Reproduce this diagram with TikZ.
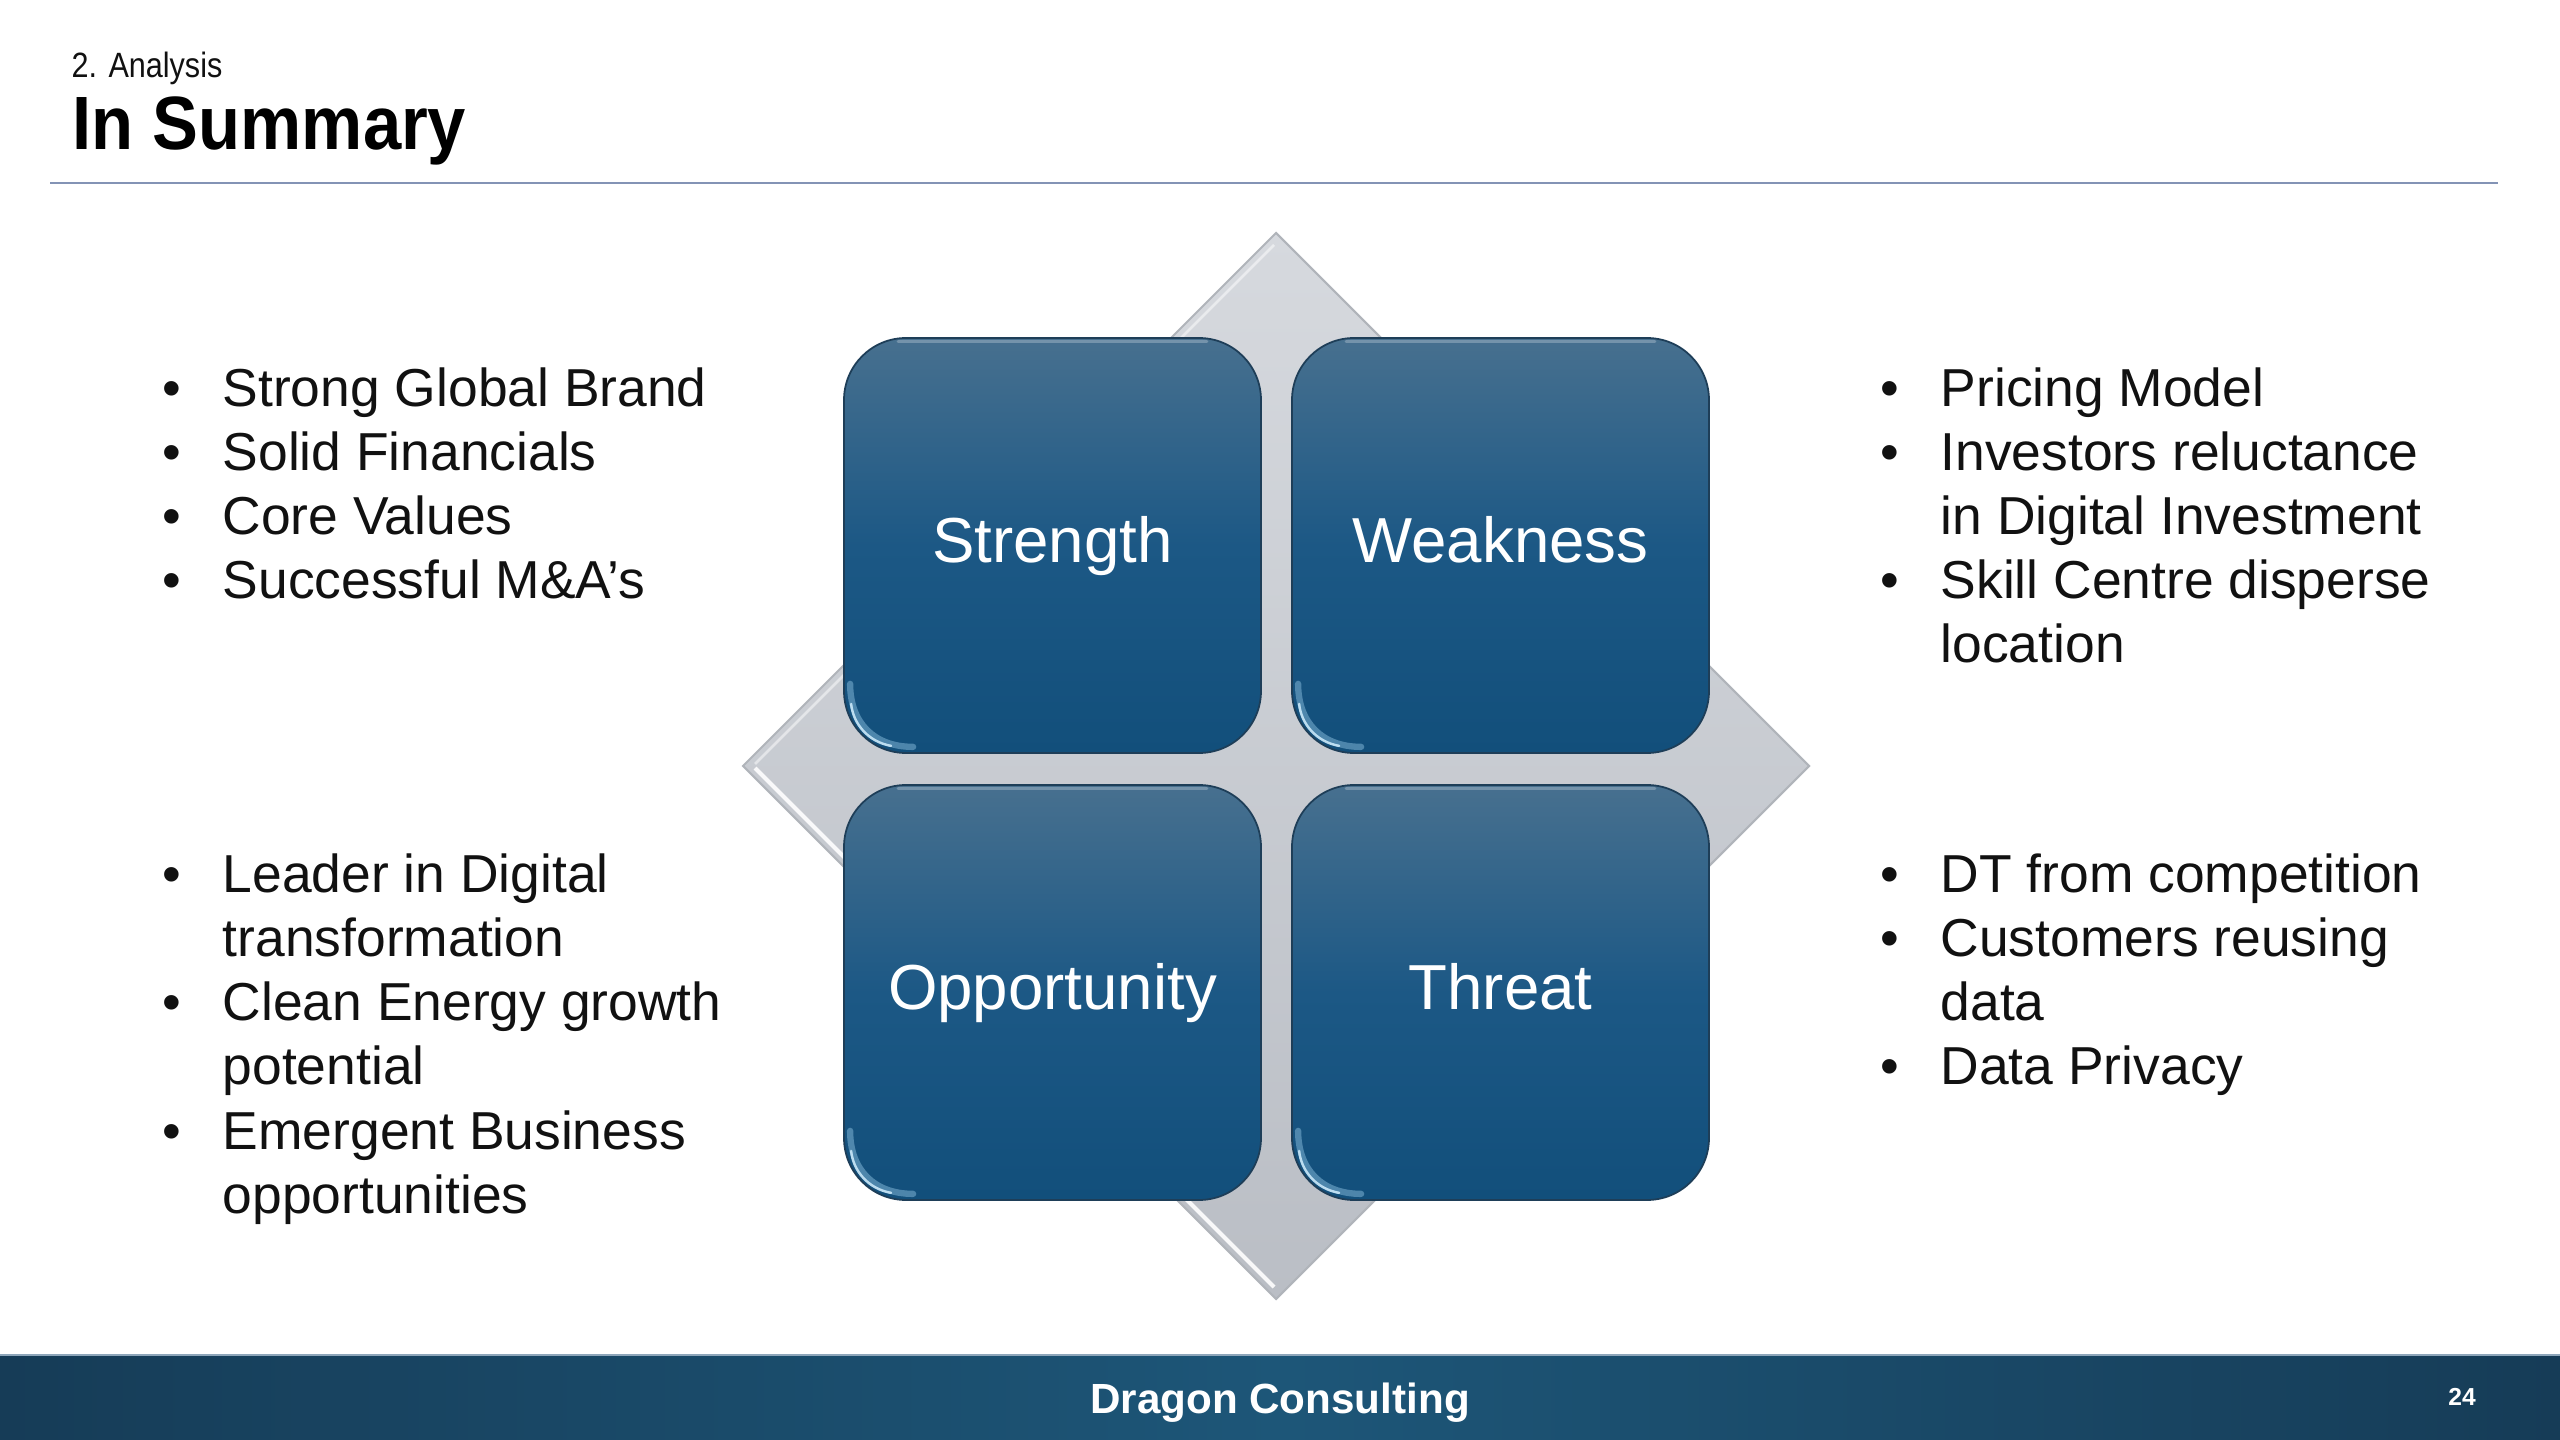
\documentclass[tikz,border=0pt]{standalone}
\usepackage{fontspec}
\setmainfont{Liberation Sans}
\usetikzlibrary{calc}
\definecolor{rulecol}{HTML}{8393B5}
\definecolor{diatop}{HTML}{D6D9DE}
\definecolor{diabot}{HTML}{BABEC5}
\definecolor{diaedge}{HTML}{B0B4BA}
\definecolor{boxtop}{HTML}{47708F}
\definecolor{boxmid}{HTML}{1C5885}
\definecolor{boxbot}{HTML}{124F7B}
\definecolor{boxedge}{HTML}{1E3E58}
\definecolor{hlcol}{HTML}{A6D8F5}
\definecolor{footdark}{HTML}{163C57}
\definecolor{footmid}{HTML}{1D5678}
\definecolor{footline}{HTML}{8EA6BA}
\definecolor{txt}{HTML}{111111}
\tikzset{
  swot/.style={rectangle, rounded corners=6.2mm, minimum width=41.7mm, minimum height=41.5mm,
    inner sep=0pt, draw=boxedge, line width=0.5pt, top color=boxtop, bottom color=boxbot,
    middle color=boxmid, text=white, font=\fontsize{18.1pt}{20pt}\selectfont,
    text height=4.5mm, text depth=1.1mm},
  hlsoft/.style={draw=hlcol, line width=1.8pt, line cap=round, opacity=0.4},
  hlcore/.style={draw=hlcol!60!white, line width=0.7pt, line cap=round, opacity=0.9},
  toplight/.style={draw=white, line width=0.8pt, line cap=round, opacity=0.25},
  bul/.style={anchor=base, inner sep=0pt, text=txt, font=\fontsize{15.2pt}{18pt}\selectfont},
  itemline/.style={anchor=base west, inner sep=0pt, text=txt, font=\fontsize{15.2pt}{18pt}\selectfont},
}
\newcommand{\boxhl}[1]{%
  \draw[hlsoft] ($(#1.south west)+(7,-70)$) .. controls ($(#1.south west)+(7,-31)$) and ($(#1.south west)+(31,-7)$) .. ($(#1.south west)+(70,-7)$);
  \draw[hlcore] ($(#1.south west)+(8,-50)$) .. controls ($(#1.south west)+(10,-30)$) and ($(#1.south west)+(25,-12)$) .. ($(#1.south west)+(48,-8)$);
  \draw[toplight] ($(#1.north west)+(55,4)$) -- ($(#1.north east)+(-55,4)$);
}
\begin{document}
\begin{tikzpicture}[x=0.1mm,y=-0.1mm]
\useasboundingbox (0,0) rectangle (2560,1440);
\fill[white] (0,0) rectangle (2560,1440);

% header
\node[anchor=base west, inner sep=0pt, text=txt] (sec) at (71,78)
  {\fontsize{10pt}{12pt}\selectfont\scalebox{0.87}[1]{2. Analysis}};
\node[anchor=base west, inner sep=0pt, text=black] (title) at (72,150)
  {\fontsize{21.5pt}{25pt}\selectfont\bfseries\scalebox{0.91}[1]{In Summary}};
\coordinate (rl) at (50,183);
\coordinate (rr) at (2498,183);
\draw[rulecol, line width=0.8pt] (rl) -- (rr);

% diamond
\coordinate (dT) at (1276,233);
\coordinate (dR) at (1809,766);
\coordinate (dB) at (1276,1299);
\coordinate (dL) at (743,766);
\path[top color=diatop, bottom color=diabot, draw=diaedge, line width=0.6pt] (dT) -- (dR) -- (dB) -- (dL) -- cycle;
\draw[white, line width=1.2pt, opacity=0.9] ($(dL)+(12,2)$) -- ($(dB)+(-2,-12)$);
\draw[white, line width=0.8pt, opacity=0.5] ($(dL)+(12,-2)$) -- ($(dT)+(-2,12)$);

% boxes
\node[swot] (S) at (1052.5,545.5) {Strength};
\node[swot] (W) at (1500.5,545.5) {Weakness};
\node[swot] (O) at (1052.5,992.5) {Opportunity};
\node[swot] (T) at (1500.5,992.5) {Threat};
\boxhl{S}\boxhl{W}\boxhl{O}\boxhl{T}

% upper left list
\node[bul] (b1) at (172,407) {•};
\node[itemline] (l1) at (222,407) {Strong Global Brand};
\node[bul] (b2) at (172,471) {•};
\node[itemline] (l2) at (222,471) {Solid Financials};
\node[bul] (b3) at (172,535) {•};
\node[itemline] (l3) at (222,535) {Core Values};
\node[bul] (b4) at (172,599) {•};
\node[itemline] (l4) at (222,599) {Successful M\&A’s};

% upper right list
\node[bul] (rb1) at (1890,407) {•};
\node[itemline] (r1) at (1940,407) {Pricing Model};
\node[bul] (rb2) at (1890,471) {•};
\node[itemline] (r2) at (1940,471) {Investors reluctance};
\node[itemline] (r2b) at (1940,535) {in Digital Investment};
\node[bul] (rb3) at (1890,599) {•};
\node[itemline] (r3) at (1940,599) {Skill Centre disperse};
\node[itemline] (r3b) at (1940,663) {location};

% lower left list
\node[bul] (ob1) at (172,893) {•};
\node[itemline] (o1) at (222,893) {Leader in Digital};
\node[itemline] (o1b) at (222,957) {transformation};
\node[bul] (ob2) at (172,1021) {•};
\node[itemline] (o2) at (222,1021) {Clean Energy growth};
\node[itemline] (o2b) at (222,1085) {potential};
\node[bul] (ob3) at (172,1149) {•};
\node[itemline] (o3) at (222,1149) {Emergent Business};
\node[itemline] (o3b) at (222,1213) {opportunities};

% lower right list
\node[bul] (tb1) at (1890,893) {•};
\node[itemline] (t1) at (1940,893) {DT from competition};
\node[bul] (tb2) at (1890,957) {•};
\node[itemline] (t2) at (1940,957) {Customers reusing};
\node[itemline] (t2b) at (1940,1021) {data};
\node[bul] (tb3) at (1890,1085) {•};
\node[itemline] (t3) at (1940,1085) {Data Privacy};

% footer
\path[left color=footdark, right color=footdark, middle color=footmid] (0,1354) rectangle (2560,1440);
\draw[footline, line width=0.6pt] (0,1355) -- (2560,1355);
\node[anchor=base, inner sep=0pt, text=white, font=\fontsize{12pt}{14pt}\selectfont\bfseries] (foot) at (1280,1413) {Dragon Consulting};
\node[anchor=base, inner sep=0pt, text=white, font=\fontsize{7pt}{8pt}\selectfont\bfseries] (page) at (2462,1405) {24};
\end{tikzpicture}
\end{document}
